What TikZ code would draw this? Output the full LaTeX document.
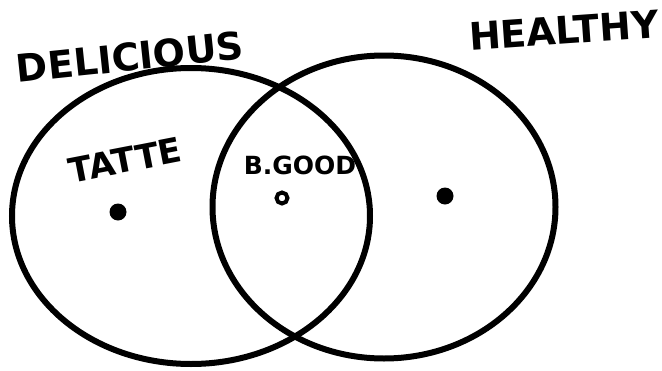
\documentclass[tikz,border=0pt]{standalone}
\usepackage{fontspec}
\setmainfont{DejaVu Sans}
\usetikzlibrary{shapes.geometric}
\begin{document}
\begin{tikzpicture}[x=1pt,y=-1pt,
  setring/.style={draw=black,line width=6pt,ellipse,inner sep=0pt},
  hand/.style={font=\fontsize{38}{40}\selectfont\bfseries,inner sep=0pt},
  solid dot/.style={circle,fill=black,inner sep=0pt,minimum size=17pt},
  open dot/.style={circle,draw=black,line width=4pt,fill=white,inner sep=0pt,minimum size=11pt}]
\useasboundingbox (0,0) rectangle (662,370);
\node[setring,minimum width=358pt,minimum height=296pt] (delicious) at (191,216) {};
\node[setring,minimum width=343pt,minimum height=303pt] (healthy) at (384,207) {};
\node[hand,rotate=6] (ldel) at (130,57) {DELICIOUS};
\node[hand,rotate=4] (lhea) at (564,30) {HEALTHY};
\node[hand,font=\fontsize{34}{36}\selectfont\bfseries,rotate=11] (ltaste) at (125,160) {TATTE};
\node[hand,font=\fontsize{25}{27}\selectfont\bfseries] (lgood) at (300,165) {B.GOOD};
\node[solid dot] (d1) at (118,212) {};
\node[open dot] (d2) at (282,198) {};
\node[solid dot] (d3) at (445,196) {};
\end{tikzpicture}
\end{document}
